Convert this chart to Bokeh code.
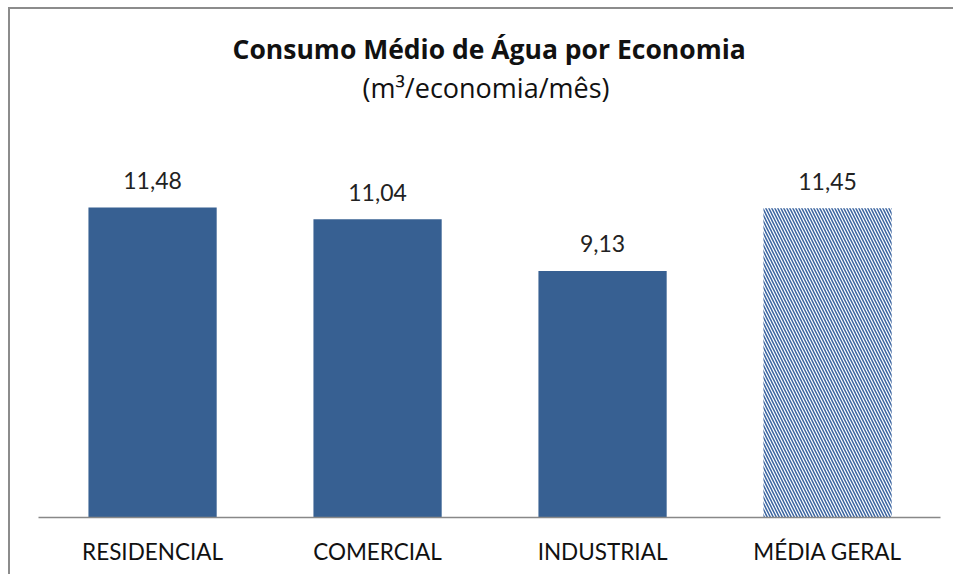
from bokeh.plotting import figure
from bokeh.models import Range1d, LabelSet, ColumnDataSource, FixedTicker
from bokeh.core.properties import value
from bokeh.embed import file_html
from bokeh.resources import INLINE

categories = ["RESIDENCIAL", "COMERCIAL", "INDUSTRIAL", "MÉDIA GERAL"]
values = [11.48, 11.04, 9.13, 11.45]
value_labels = ["11,48", "11,04", "9,13", "11,45"]
title_text = ["Consumo Médio de Água por Economia"]
subtitle_text = ["(m³/economia/mês)"]

FONT = "Lato"
TFONT = "Open Sans"
BAR = "#376092"
pos = list(range(len(categories)))

p = figure(width=945, height=567, output_backend="svg", toolbar_location=None,
           x_range=Range1d(-0.507, 3.502), y_range=Range1d(0, 18.81),
           y_axis_location=None,
           min_border_left=28, min_border_right=15, min_border_top=0, min_border_bottom=59)
p.styles = {"border-left": "2px solid #8c8c8c", "border-top": "2px solid #8c8c8c",
            "margin-left": "8px", "margin-top": "7px"}
p.outline_line_color = None
p.xgrid.visible = False
p.ygrid.visible = False
p.background_fill_color = "white"
p.border_fill_color = "white"

p.vbar(x=pos[:3], top=values[:3], width=0.57, fill_color=BAR, line_color=None)
p.vbar(x=pos[3:], top=values[3:], width=0.57, fill_color="white", line_color=None,
       hatch_pattern="\\", hatch_color="#3a64a0", hatch_scale=6, hatch_weight=1.5)

src = ColumnDataSource(dict(x=pos, y=values, t=value_labels))
p.add_layout(LabelSet(x="x", y="y", text="t", source=src, y_offset=27,
                      text_align="center", text_baseline="middle",
                      text_font=value(FONT), text_font_size="23px", text_color="#222222"))

p.text(x=[1.496], y=[17.36], text=title_text, text_align="center", text_baseline="middle",
       text_font=value(TFONT), text_font_style="bold", text_font_size="26.5px",
       text_color="#111111")
p.text(x=[1.482], y=[15.93], text=subtitle_text, text_align="center", text_baseline="middle",
       text_font=value(TFONT), text_font_size="27px", text_color="#111111")

ax = p.xaxis[0]
ax.ticker = FixedTicker(ticks=pos)
ax.major_label_overrides = {i: c for i, c in zip(pos, categories)}
ax.major_tick_line_color = None
ax.minor_tick_line_color = None
ax.axis_line_color = "#888888"
ax.axis_line_width = 1.5
ax.major_label_standoff = 14
ax.major_label_text_font = FONT
ax.major_label_text_font_size = "22.5px"
ax.major_label_text_color = "#111111"

open("out.html", "w").write(file_html(p, INLINE))
